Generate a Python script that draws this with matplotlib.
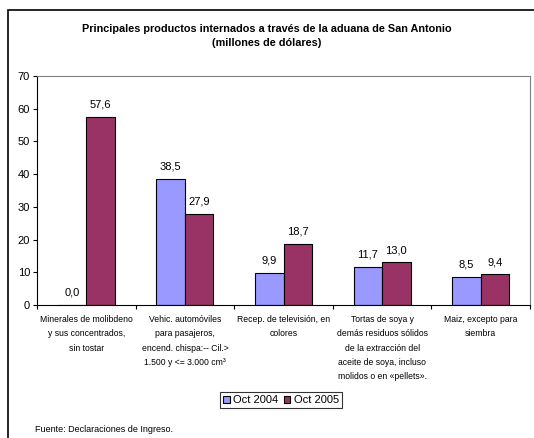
import numpy as np
import matplotlib
matplotlib.use('Agg')
import matplotlib.pyplot as plt
from matplotlib.patches import Rectangle

plt.rcParams['font.family'] = ['Liberation Sans', 'DejaVu Sans']

#data
categorias = ['Minerales de molibdeno\ny sus concentrados,\nsin tostar',
              'Vehic. automóviles\npara pasajeros,\nencend. chispa:-- Cil.>\n1.500 y <= 3.000 cm³',
              'Recep. de televisión, en\ncolores',
              'Tortas de soya y\ndemás residuos sólidos\nde la extracción del\naceite de soya, incluso\nmolidos o en «pellets».',
              'Maiz, excepto para\nsiembra']
oct2004 = [0.0, 38.5, 9.9, 11.7, 8.5]
oct2005 = [57.6, 27.9, 18.7, 13.0, 9.4]
series = ['Oct 2004', 'Oct 2005']

fig = plt.figure(figsize=(5.34, 4.38), dpi=100)
W, H = 534, 438
ax = fig.add_axes([37/W, 1-305/H, (530-37)/W, (305-76)/H])

x = np.arange(len(categorias))
w = 0.29
b1 = ax.bar(x - w/2, oct2004, w, color='#9999FF', edgecolor='black', linewidth=0.8, label=series[0])
b2 = ax.bar(x + w/2, oct2005, w, color='#993366', edgecolor='black', linewidth=0.8, label=series[1])

for bars, vals in [(b1, oct2004), (b2, oct2005)]:
    for r, v in zip(bars, vals):
        ax.text(r.get_x() + r.get_width()/2, v + 2.2, ('%.1f' % v).replace('.', ','),
                ha='center', va='bottom', fontsize=8)

ax.set_xlim(-0.5, 4.5)
ax.set_ylim(0, 70)
ax.set_yticks(range(0, 71, 10))
ax.set_xticks(np.arange(-0.5, 5, 1))
ax.set_xticklabels([])
ax.tick_params(axis='both', direction='out', length=3, width=0.8, labelsize=8, pad=2)
for s in ['top', 'right']:
    ax.spines[s].set_color('#808080')
for s in ['left', 'bottom']:
    ax.spines[s].set_color('black')

for i, c in enumerate(categorias):
    ax.text(i, -3.1, c, ha='center', va='top', fontsize=6.2, linespacing=1.75)

fig.text(0.5, 1-36/H, 'Principales productos internados a través de la aduana de San Antonio\n(millones de dólares)',
         ha='center', va='center', fontsize=7.8, fontweight='bold', linespacing=1.45)

leg = fig.legend(loc='center', bbox_to_anchor=(281/W, 1-400/H), ncol=2, fontsize=8,
                 frameon=True, fancybox=False, edgecolor='black', handlelength=0.6,
                 handleheight=0.6, handletextpad=0.3, columnspacing=0.5, borderpad=0.3)
leg.get_frame().set_linewidth(0.8)

fig.text(35/W, 1-429/H, 'Fuente: Declaraciones de Ingreso.', fontsize=6.5, va='center')

fig.patches.append(Rectangle((8/W, -0.1), 2, 1 - 10/H + 0.1, transform=fig.transFigure,
                             fill=False, edgecolor='black', linewidth=1.2))

plt.savefig('out.png', dpi=100)
